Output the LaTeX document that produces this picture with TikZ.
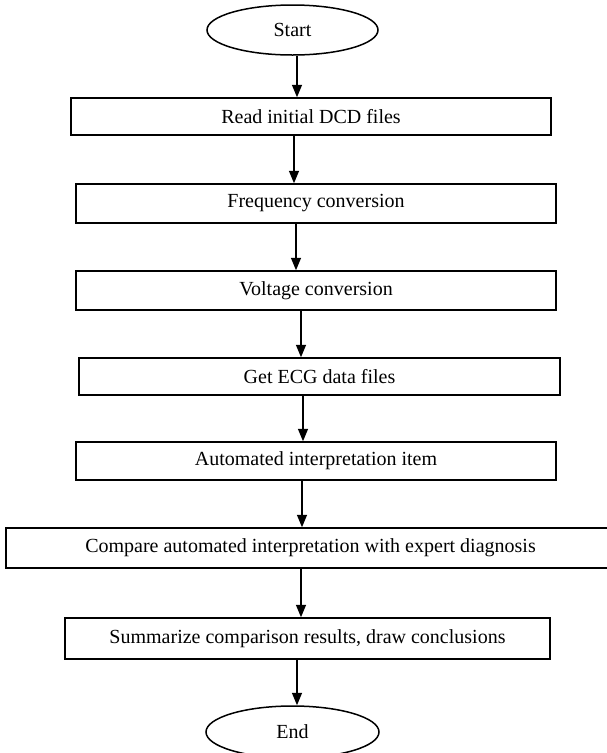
\documentclass[tikz,border=0pt]{standalone}
\usepackage{fontspec}
\setmainfont{Liberation Serif}
\usetikzlibrary{arrows.meta,shapes.geometric}
\begin{document}
\begin{tikzpicture}[x=0.6pt,y=-0.6pt,
  box/.style={draw, line width=0.9pt, rectangle, inner sep=0pt, font=\fontsize{12}{14}\selectfont},
  term/.style={draw, ellipse, line width=0.9pt, inner sep=0pt, font=\fontsize{12}{14}\selectfont},
  arr/.style={-{Triangle[width=6pt,length=7.5pt]}, line width=0.9pt}]
\useasboundingbox (0,0) rectangle (607,753);
\clip (0,0) rectangle (607,753);
\fill[white] (0,0) rectangle (607,753);
% nodes
\node[term, minimum width=102.6pt, minimum height=30pt] (start) at (292.5,30) {Start};
\node[box, minimum width=288pt, minimum height=22.2pt] (b1) at (311,116.5) {Read initial DCD files};
\node[box, minimum width=288pt, minimum height=23.4pt] (b2) at (316,203.5) {Frequency conversion};
\node[box, minimum width=288pt, minimum height=23.4pt] (b3) at (316,290.5) {Voltage conversion};
\node[box, minimum width=288.6pt, minimum height=22.2pt] (b4) at (319.5,376.5) {Get ECG data files};
\node[box, minimum width=288pt, minimum height=22.8pt] (b5) at (316,461) {Automated interpretation item};
\node[box, minimum width=363.6pt, minimum height=24pt] (b6) at (309,548) {};
\node[font=\fontsize{12}{14}\selectfont] (b6t) at (310.5,548) {Compare automated interpretation with expert diagnosis};
\node[box, minimum width=291pt, minimum height=24.6pt] (b7) at (307.5,638.5) {Summarize comparison results, draw conclusions};
\node[term, minimum width=103.8pt, minimum height=31.2pt] (end) at (292.5,732) {End};
% arrow columns
\coordinate (x0) at (297,0);
\coordinate (x1) at (294,0);
\coordinate (x2) at (296,0);
\coordinate (x3) at (301,0);
\coordinate (x4) at (303,0);
\coordinate (x5) at (302,0);
\coordinate (x6) at (301,0);
\coordinate (x7) at (297,0);
% connectors
\draw[arr] (start.south -| x0) -- (b1.north -| x0);
\draw[arr] (b1.south -| x1) -- (b2.north -| x1);
\draw[arr] (b2.south -| x2) -- (b3.north -| x2);
\draw[arr] (b3.south -| x3) -- (b4.north -| x3);
\draw[arr] (b4.south -| x4) -- (b5.north -| x4);
\draw[arr] (b5.south -| x5) -- (b6.north -| x5);
\draw[arr] (b6.south -| x6) -- (b7.north -| x6);
\draw[arr] (b7.south -| x7) -- (end.north -| x7);
\end{tikzpicture}
\end{document}
